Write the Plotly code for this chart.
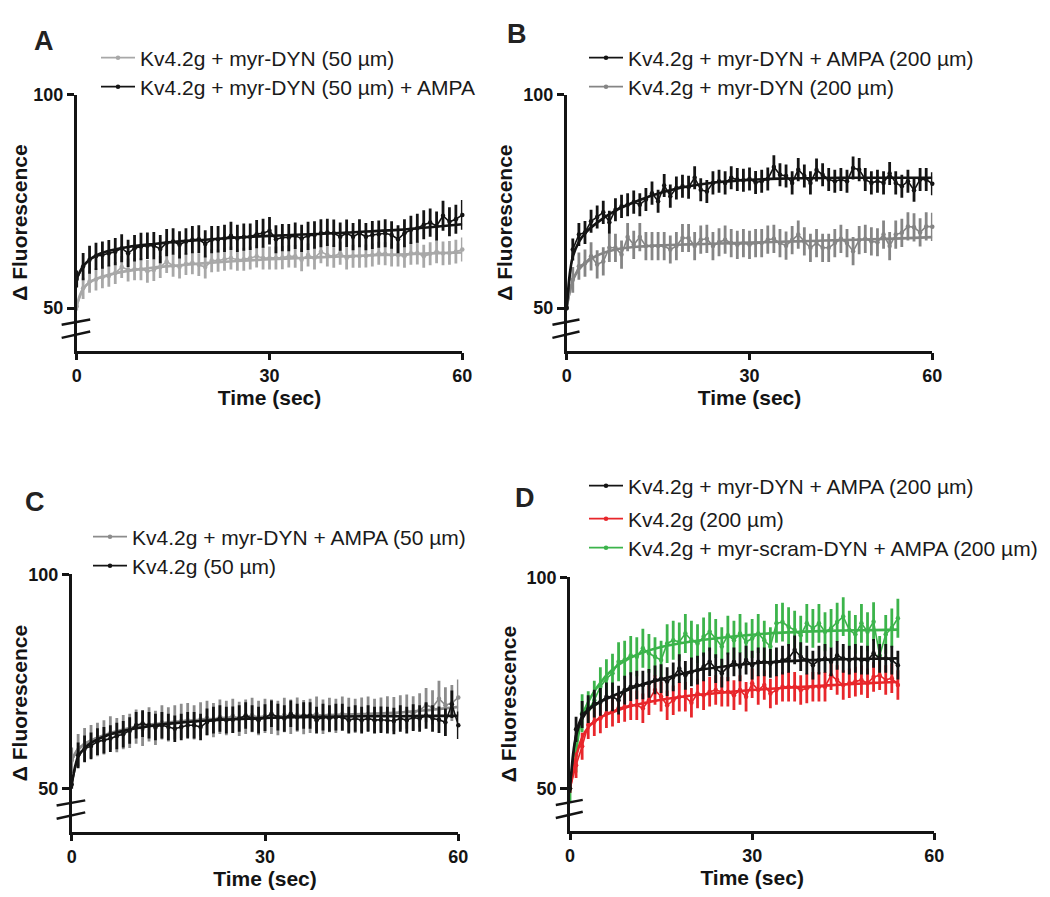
import plotly.graph_objects as go

# ---------------- data ----------------
T60 = list(range(61))
T54 = list(range(55))

# Panel A
A_AMPA = [56.8, 59.7, 61.3, 62.1, 62.4, 62.8, 63.2, 64.0, 62.8, 64.0,
          64.4, 64.6, 64.6, 63.8, 65.3, 65.6, 64.8, 65.6, 66.0, 66.1,
          65.0, 66.0, 66.1, 66.3, 66.9, 66.3, 66.6, 66.7, 67.3, 67.5,
          68.1, 66.1, 66.5, 66.5, 66.9, 66.3, 66.9, 67.1, 67.5, 67.7,
          67.5, 66.7, 67.5, 66.7, 67.5, 66.7, 67.1, 67.3, 67.5, 67.1,
          66.1, 67.5, 68.3, 68.7, 69.5, 70.0, 69.2, 71.6, 70.2, 70.8, 71.8]
A_AMPA_ERR = [2.0, 3.2, 3.3, 3.2, 3.2, 3.1, 3.2, 3.3, 3.2, 3.1,
              3.2, 3.1, 3.2, 3.3, 3.2, 3.1, 3.2, 3.1, 3.2, 3.3,
              3.2, 3.2, 3.1, 3.2, 3.3, 3.2, 3.2, 3.1, 3.3, 3.4,
              3.2, 3.3, 3.2, 3.2, 3.1, 3.2, 3.3, 3.2, 3.3, 3.2,
              3.2, 3.3, 3.2, 3.2, 3.3, 3.2, 3.3, 3.2, 3.3, 3.2,
              3.3, 3.3, 3.3, 3.4, 3.4, 3.3, 3.4, 3.5, 3.4, 3.4, 3.5]
A_CTRL = [50.4, 54.6, 56.2, 56.7, 57.2, 57.5, 58.2, 59.6, 58.9, 59.1,
          59.1, 58.6, 58.9, 59.6, 60.9, 59.9, 59.6, 60.3, 60.6, 60.1,
          59.6, 61.1, 61.1, 61.4, 61.7, 61.3, 61.4, 61.7, 62.1, 61.7,
          61.7, 61.7, 61.8, 62.1, 62.1, 61.3, 62.4, 61.7, 63.2, 62.4,
          62.1, 62.8, 61.7, 62.1, 62.1, 62.2, 62.4, 62.8, 62.7, 62.4,
          62.4, 62.1, 62.8, 62.9, 62.1, 62.7, 63.2, 62.8, 62.9, 63.2, 63.7]
A_CTRL_ERR = [1.0, 2.5, 2.6, 2.6, 2.6, 2.5, 2.6, 2.6, 2.7, 2.6,
              2.6, 2.7, 2.6, 2.6, 2.7, 2.6, 2.7, 2.6, 2.7, 2.6,
              2.7, 2.7, 2.6, 2.7, 2.7, 2.6, 2.7, 2.7, 2.6, 2.7,
              2.7, 2.7, 2.7, 2.6, 2.7, 2.7, 2.7, 2.7, 2.7, 2.7,
              2.7, 2.7, 2.7, 2.7, 2.7, 2.7, 2.7, 2.7, 2.7, 2.7,
              2.7, 2.7, 2.7, 2.7, 2.7, 2.7, 2.7, 2.8, 2.8, 2.8, 2.8]

# Panel B
B_AMPA = [50.0, 63.7, 67.2, 67.7, 70.3, 71.3, 72.4, 70.1, 73.0, 73.8,
          74.2, 74.8, 74.2, 75.4, 76.9, 75.0, 78.7, 76.2, 78.1, 78.5,
          78.3, 80.5, 77.7, 77.3, 79.3, 79.7, 79.3, 80.5, 80.1, 79.9,
          80.2, 79.4, 79.7, 80.2, 83.0, 81.2, 80.9, 79.3, 82.4, 80.9,
          79.3, 82.3, 81.2, 80.1, 79.7, 80.1, 79.7, 82.8, 82.4, 80.1,
          79.3, 79.7, 79.3, 81.5, 79.3, 78.5, 79.7, 77.6, 80.1, 80.1, 79.1]
B_AMPA_ERR = [0.5, 2.6, 2.7, 2.7, 2.7, 2.7, 2.7, 2.7, 2.7, 2.7,
              2.7, 2.7, 2.7, 2.7, 2.7, 2.7, 2.7, 2.7, 2.7, 2.7,
              2.7, 2.7, 2.7, 2.7, 2.7, 2.7, 2.7, 2.7, 2.7, 2.7,
              2.7, 2.7, 2.7, 2.7, 2.8, 2.7, 2.7, 2.7, 2.7, 2.7,
              2.7, 2.7, 2.7, 2.7, 2.7, 2.7, 2.7, 2.7, 2.7, 2.7,
              2.7, 2.7, 2.7, 2.7, 2.7, 2.7, 2.7, 2.7, 2.7, 2.7, 2.7]
B_CTRL = [50.0, 56.6, 59.8, 60.5, 62.1, 60.2, 60.9, 64.1, 64.1, 62.5,
          66.6, 64.8, 66.6, 64.5, 64.5, 64.5, 64.5, 63.7, 64.5, 66.4,
          66.4, 64.5, 66.0, 66.2, 64.5, 65.4, 66.0, 65.2, 64.8, 65.2,
          64.8, 65.2, 65.2, 66.0, 66.2, 65.2, 64.6, 65.9, 67.2, 65.6,
          64.1, 65.2, 64.1, 64.1, 65.2, 66.2, 65.2, 63.3, 65.9, 66.2,
          65.6, 65.4, 67.2, 64.5, 67.2, 67.6, 69.1, 68.9, 67.7, 69.1, 69.0]
B_CTRL_ERR = [0.5, 3.0, 3.2, 3.2, 3.3, 3.3, 3.3, 3.3, 3.3, 3.3,
              3.3, 3.3, 3.3, 3.3, 3.3, 3.3, 3.3, 3.3, 3.3, 3.3,
              3.3, 3.3, 3.3, 3.3, 3.3, 3.3, 3.3, 3.3, 3.3, 3.3,
              3.3, 3.3, 3.3, 3.3, 3.3, 3.3, 3.3, 3.3, 3.3, 3.3,
              3.3, 3.3, 3.3, 3.3, 3.3, 3.3, 3.3, 3.3, 3.3, 3.3,
              3.3, 3.3, 3.3, 3.3, 3.3, 3.3, 3.3, 3.3, 3.3, 3.3, 3.3]

# Panel C
C_AMPA = [56.6, 59.0, 60.3, 61.0, 61.5, 62.0, 63.0, 62.5, 63.2, 63.5,
          64.5, 64.0, 65.0, 64.2, 65.5, 65.0, 65.5, 65.8, 66.0, 65.5,
          66.2, 66.5, 66.0, 66.8, 66.5, 67.0, 66.3, 66.8, 67.2, 66.5,
          67.0, 66.8, 66.5, 67.2, 66.8, 67.3, 66.7, 67.0, 67.5, 66.8,
          67.2, 67.0, 67.5, 67.2, 67.0, 67.3, 67.5, 67.0, 67.3, 67.6,
          67.4, 67.8, 68.0, 67.6, 68.3, 69.5, 69.0, 71.0, 69.5, 70.0, 71.3]
C_AMPA_ERR = [3.0, 3.8, 3.9, 3.9, 3.9, 4.0, 3.9, 4.0, 4.0, 4.0,
              4.0, 4.0, 4.0, 4.0, 4.0, 4.0, 4.0, 4.0, 4.0, 4.0,
              4.0, 4.0, 4.0, 4.0, 4.0, 4.0, 4.0, 4.0, 4.0, 4.0,
              4.0, 4.0, 4.0, 4.0, 4.0, 4.0, 4.0, 4.0, 4.0, 4.0,
              4.0, 4.0, 4.0, 4.0, 4.0, 4.0, 4.0, 4.0, 4.0, 4.0,
              4.0, 4.0, 4.0, 4.0, 4.0, 4.0, 4.0, 4.2, 4.2, 4.2, 4.2]
C_CTRL = [51.0, 57.8, 59.3, 60.0, 61.0, 61.3, 61.7, 62.3, 62.7, 63.6,
          64.8, 65.2, 64.8, 64.4, 64.8, 64.4, 64.0, 64.4, 64.8, 64.8,
          64.4, 65.6, 66.0, 66.4, 66.0, 66.1, 66.4, 67.1, 66.4, 66.0,
          66.6, 67.5, 66.7, 66.4, 67.5, 66.7, 67.1, 67.1, 66.0, 66.7,
          66.4, 66.7, 66.7, 66.0, 66.4, 66.0, 66.4, 66.0, 66.1, 66.0,
          65.8, 66.4, 66.0, 66.6, 66.4, 67.1, 66.4, 66.1, 65.5, 69.7, 64.8]
C_CTRL_ERR = [1.0, 3.0, 3.1, 3.1, 3.1, 3.1, 3.1, 3.1, 3.1, 3.1,
              3.1, 3.1, 3.1, 3.1, 3.1, 3.1, 3.1, 3.1, 3.1, 3.1,
              3.1, 3.1, 3.1, 3.1, 3.1, 3.1, 3.1, 3.1, 3.1, 3.1,
              3.1, 3.1, 3.1, 3.1, 3.1, 3.1, 3.1, 3.1, 3.1, 3.1,
              3.1, 3.1, 3.1, 3.1, 3.1, 3.1, 3.1, 3.1, 3.1, 3.1,
              3.1, 3.1, 3.1, 3.1, 3.1, 3.1, 3.1, 3.1, 3.2, 3.2, 3.2]

# Panel D
D_AMPA = [50.0, 64.0, 67.5, 68.8, 70.1, 70.5, 71.7, 71.7, 70.9, 73.3,
          74.1, 74.5, 74.5, 74.9, 75.7, 76.0, 75.3, 76.4, 78.4, 76.8,
          77.6, 78.0, 78.8, 80.0, 78.4, 77.3, 78.8, 80.0, 78.8, 80.4,
          79.2, 80.0, 80.0, 79.6, 80.0, 80.4, 80.8, 82.8, 81.2, 80.4,
          79.2, 80.4, 80.8, 80.0, 81.5, 80.8, 80.4, 80.8, 80.4, 80.4,
          82.0, 80.8, 80.8, 80.4, 79.2]
D_AMPA_ERR = [1.0, 3.0, 3.2, 3.3, 3.3, 3.3, 3.4, 3.4, 3.4, 3.4,
              3.4, 3.4, 3.4, 3.4, 3.4, 3.4, 3.4, 3.4, 3.4, 3.4,
              3.4, 3.4, 3.4, 3.4, 3.4, 3.4, 3.4, 3.4, 3.4, 3.4,
              3.4, 3.4, 3.4, 3.4, 3.4, 3.4, 3.4, 3.4, 3.4, 3.4,
              3.4, 3.4, 3.4, 3.4, 3.4, 3.4, 3.4, 3.4, 3.4, 3.4,
              3.4, 3.4, 3.4, 3.4, 3.4]
D_CTRL = [50.0, 55.5, 60.0, 65.0, 65.8, 66.6, 67.8, 68.2, 69.0, 69.3,
          69.7, 69.7, 69.0, 70.9, 73.3, 71.7, 69.7, 70.9, 71.7, 71.7,
          70.3, 72.5, 72.1, 72.9, 73.3, 72.9, 72.9, 72.1, 73.3, 71.7,
          74.9, 73.3, 74.5, 72.5, 73.3, 74.1, 74.1, 74.1, 73.3, 73.7,
          74.1, 74.1, 74.1, 76.8, 75.7, 74.5, 74.9, 75.3, 75.7, 74.9,
          76.4, 76.8, 75.7, 76.1, 74.5]
D_CTRL_ERR = [1.0, 3.0, 3.2, 3.3, 3.4, 3.5, 3.5, 3.5, 3.5, 3.5,
              3.5, 3.5, 3.5, 3.5, 3.5, 3.5, 3.5, 3.5, 3.5, 3.5,
              3.5, 3.5, 3.5, 3.5, 3.5, 3.5, 3.5, 3.5, 3.5, 3.5,
              3.5, 3.5, 3.5, 3.5, 3.5, 3.5, 3.5, 3.5, 3.5, 3.5,
              3.5, 3.5, 3.5, 3.5, 3.5, 3.5, 3.5, 3.5, 3.5, 3.5,
              3.5, 3.5, 3.5, 3.5, 3.5]
D_SCRAM = [50.0, 58.0, 67.8, 68.5, 70.9, 74.1, 76.0, 77.3, 80.0, 80.4,
           81.5, 81.2, 83.2, 82.0, 81.2, 80.4, 84.3, 85.1, 84.7, 86.7,
           85.1, 84.3, 85.9, 87.1, 85.5, 83.6, 86.3, 85.1, 86.7, 84.7,
           85.5, 86.7, 85.1, 83.6, 89.1, 89.4, 88.3, 87.5, 86.3, 89.1,
           87.9, 89.1, 87.1, 87.9, 89.4, 90.7, 87.5, 86.5, 89.1, 87.1,
           89.5, 81.5, 86.5, 88.0, 90.3]
D_SCRAM_ERR = [3.0, 4.2, 4.5, 4.5, 4.6, 4.6, 4.6, 4.6, 4.6, 4.6,
               4.6, 4.6, 4.6, 4.6, 4.6, 4.6, 4.6, 4.6, 4.6, 4.6,
               4.6, 4.6, 4.6, 4.6, 4.6, 4.6, 4.6, 4.6, 4.6, 4.6,
               4.6, 4.6, 4.6, 4.6, 4.6, 4.6, 4.6, 4.6, 4.6, 4.6,
               4.6, 4.6, 4.6, 4.6, 4.6, 4.6, 4.6, 4.6, 4.6, 4.6,
               4.6, 4.6, 4.6, 4.6, 4.6]

# fitted curves (read at selected times)
FIT_T = [0, 0.5, 1, 2, 3, 5, 8, 12, 16, 20, 25, 30, 35, 40, 45, 50, 55, 60]
A_AMPA_FIT = [56.8, 58.5, 59.8, 61.3, 62.3, 63.4, 64.3, 65.0, 65.6, 66.0, 66.5, 66.9, 67.2, 67.5, 67.9, 68.3, 68.9, 69.6]
A_CTRL_FIT = [50.5, 53.0, 54.5, 56.0, 56.8, 57.8, 58.7, 59.5, 60.0, 60.5, 61.0, 61.4, 61.7, 62.0, 62.3, 62.5, 62.8, 63.0]
B_AMPA_FIT = [50.0, 58.0, 62.0, 65.5, 67.5, 70.0, 72.8, 75.3, 77.2, 78.5, 79.5, 80.0, 80.3, 80.4, 80.5, 80.5, 80.5, 80.5]
B_CTRL_FIT = [50.0, 54.0, 56.5, 59.0, 60.5, 62.3, 63.7, 64.4, 64.7, 64.9, 65.1, 65.3, 65.5, 65.7, 65.9, 66.1, 66.3, 66.6]
C_AMPA_FIT = [56.6, 58.2, 59.3, 60.5, 61.3, 62.5, 63.8, 64.9, 65.6, 66.1, 66.5, 66.8, 67.0, 67.2, 67.4, 67.7, 68.3, 69.1]
C_CTRL_FIT = [51.0, 55.0, 57.5, 59.5, 60.7, 62.2, 63.5, 64.6, 65.3, 65.8, 66.2, 66.5, 66.7, 66.8, 66.9, 66.9, 67.0, 67.0]
FIT_T_D = [0, 0.5, 1, 2, 3, 4, 5, 6, 8, 10, 12, 15, 20, 25, 30, 35, 40, 45, 50, 54]
D_AMPA_FIT = [50.0, 58.0, 62.5, 66.5, 68.5, 69.6, 70.5, 71.2, 72.5, 73.6, 74.7, 75.8, 77.7, 78.8, 79.6, 80.1, 80.4, 80.6, 80.7, 80.8]
D_CTRL_FIT = [50.0, 54.0, 57.5, 62.0, 64.5, 65.8, 66.8, 67.5, 68.6, 69.5, 70.2, 71.0, 72.0, 72.7, 73.3, 73.8, 74.2, 74.6, 75.0, 75.2]
D_SCRAM_FIT = [50.0, 56.0, 61.0, 67.0, 70.5, 73.0, 75.0, 76.8, 79.3, 81.0, 82.2, 83.5, 84.8, 85.7, 86.4, 86.9, 87.2, 87.4, 87.5, 87.6]

X_TICKS = [0, 30, 60]
Y_TICKS = [50, 100]

# ---------------- styling ----------------
# the page body has an 8px margin, so the figure is sized to fill the rest
OFF = 8
W, H = 1050 - OFF, 897 - OFF
FONT = "Liberation Sans, Arial, sans-serif"
BLACK = "#141414"
GRAY_A = "#a8a8a8"
GRAY_B = "#858585"
GRAY_C = "#8c8c8c"
RED = "#e8262b"
GREEN = "#3cb44b"


def px_x(p):
    return (p - OFF) / W


def px_y(p):
    return 1 - (p - OFF) / H


# panel domains in window pixels: (x0, x1, ytop, ybottom)
PANELS = {
    "A": (76.7, 462.3, 94.5, 350.7),
    "B": (566.7, 932.3, 94.5, 350.7),
    "C": (71.7, 458.3, 574.3, 831.7),
    "D": (570.0, 934.3, 577.3, 830.7),
}
AX = {"A": ("x", "y"), "B": ("x2", "y2"), "C": ("x3", "y3"), "D": ("x4", "y4")}

fig = go.Figure()


def add_series(panel, t, y, err, fit_t, fit_y, color, name, legend):
    xa, ya = AX[panel]
    fig.add_trace(go.Scatter(
        x=fit_t, y=fit_y, mode="lines", xaxis=xa, yaxis=ya,
        line=dict(color=color, width=2.6, shape="spline", smoothing=0.8),
        showlegend=False, hoverinfo="skip"))
    fig.add_trace(go.Scatter(
        x=t, y=y, mode="lines+markers", xaxis=xa, yaxis=ya, name=name,
        line=dict(color=color, width=1.6),
        marker=dict(color=color, size=4.5),
        error_y=dict(type="data", array=err, visible=True, thickness=2.8,
                     width=0, color=color),
        cliponaxis=False, legend=legend, showlegend=True))


add_series("A", T60, A_CTRL, A_CTRL_ERR, FIT_T, A_CTRL_FIT, GRAY_A,
           "Kv4.2g + myr-DYN (50 µm)", "legend")
add_series("A", T60, A_AMPA, A_AMPA_ERR, FIT_T, A_AMPA_FIT, BLACK,
           "Kv4.2g + myr-DYN (50 µm) + AMPA", "legend2")
add_series("B", T60, B_CTRL, B_CTRL_ERR, FIT_T, B_CTRL_FIT, GRAY_B,
           "Kv4.2g + myr-DYN (200 µm)", "legend4")
add_series("B", T60, B_AMPA, B_AMPA_ERR, FIT_T, B_AMPA_FIT, BLACK,
           "Kv4.2g + myr-DYN + AMPA (200 µm)", "legend3")
add_series("C", T60, C_AMPA, C_AMPA_ERR, FIT_T, C_AMPA_FIT, GRAY_C,
           "Kv4.2g + myr-DYN + AMPA (50 µm)", "legend5")
add_series("C", T60, C_CTRL, C_CTRL_ERR, FIT_T, C_CTRL_FIT, BLACK,
           "Kv4.2g (50 µm)", "legend6")
add_series("D", T54, D_SCRAM, D_SCRAM_ERR, FIT_T_D, D_SCRAM_FIT, GREEN,
           "Kv4.2g + myr-scram-DYN + AMPA (200 µm)", "legend9")
add_series("D", T54, D_CTRL, D_CTRL_ERR, FIT_T_D, D_CTRL_FIT, RED,
           "Kv4.2g (200 µm)", "legend8")
add_series("D", T54, D_AMPA, D_AMPA_ERR, FIT_T_D, D_AMPA_FIT, BLACK,
           "Kv4.2g + myr-DYN + AMPA (200 µm)", "legend7")

layout = dict(
    width=W, height=H,
    margin=dict(l=0, r=0, t=0, b=0),
    paper_bgcolor="white", plot_bgcolor="white",
    font=dict(family=FONT, color="black"),
    annotations=[], shapes=[],
)

tickfont = dict(family=FONT, size=18, color=BLACK, weight="bold")
titlefont = dict(family=FONT, size=21, color=BLACK, weight="bold")

for i, (panel, (x0, x1, yt, yb)) in enumerate(PANELS.items()):
    sfx = "" if i == 0 else str(i + 1)
    xa_key, ya_key = "xaxis" + sfx, "yaxis" + sfx
    layout[xa_key] = dict(
        domain=[px_x(x0), px_x(x1)], range=[0, 60], anchor="y" + sfx,
        tickvals=X_TICKS, ticks="outside", ticklen=7, tickwidth=2.5,
        tickcolor=BLACK, showline=True, linewidth=2.5, linecolor=BLACK,
        showgrid=False, zeroline=False, tickfont=tickfont,
        title=dict(text="Time (sec)", font=titlefont, standoff=5),
        automargin=False, fixedrange=True)
    layout[ya_key] = dict(
        domain=[px_y(yb), px_y(yt)], range=[40, 100], anchor="x" + sfx,
        tickvals=Y_TICKS, ticks="outside", ticklen=7, tickwidth=2.5,
        tickcolor=BLACK, showline=True, linewidth=2.5, linecolor=BLACK,
        showgrid=False, zeroline=False, tickfont=tickfont,
        title=dict(text="Δ Fluorescence", font=titlefont, standoff=5),
        automargin=False, fixedrange=True)
    # axis break marks
    for lo, hi in [(46.1, 47.3), (43.0, 44.5)]:
        layout["shapes"].append(dict(
            type="line", xref="x" + sfx + " domain", yref="y" + sfx,
            x0=-0.039, x1=0.035, y0=lo, y1=hi,
            line=dict(color=BLACK, width=2.5)))

# panel letters
for letter, (cx, cy) in {"A": (43.5, 41), "B": (517, 33.5),
                         "C": (35, 502), "D": (525, 498)}.items():
    layout["annotations"].append(dict(
        text=letter, x=px_x(cx), y=px_y(cy), xref="paper", yref="paper",
        showarrow=False, xanchor="center", yanchor="middle",
        font=dict(family=FONT, size=27, color="#222222", weight="bold")))

# legends: one per entry (x of item origin, y of row center, in window px)
LEG_POS = {
    "legend": (96, 58), "legend2": (96, 87),
    "legend3": (584, 58), "legend4": (584, 87),
    "legend5": (88, 537), "legend6": (88, 566),
    "legend7": (584, 486), "legend8": (584, 519), "legend9": (584, 548),
}
for key, (lx, ly) in LEG_POS.items():
    layout[key] = dict(
        x=px_x(lx), y=px_y(ly), xanchor="left", yanchor="middle",
        bgcolor="rgba(0,0,0,0)", borderwidth=0,
        font=dict(family=FONT, size=21, color="#1a1a1a"),
        itemwidth=34, itemclick=False, itemdoubleclick=False)

fig.update_layout(**layout)
fig.write_html("out.html")
